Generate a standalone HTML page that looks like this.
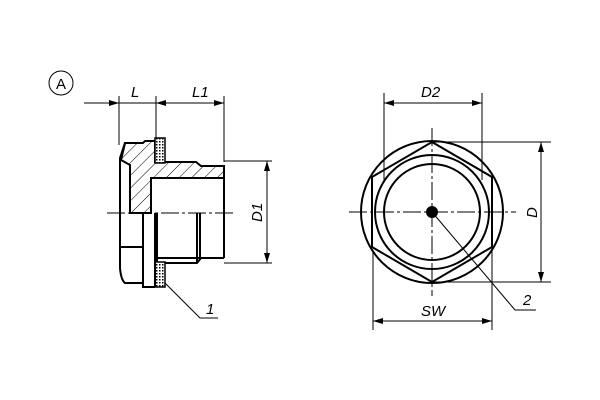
<!DOCTYPE html>
<html><head><meta charset="utf-8"><style>html,body{margin:0;padding:0;background:#fff}svg{display:block}text{font-family:"Liberation Sans",sans-serif;font-style:italic;font-size:15px;fill:#000}</style></head>
<body>
<svg width="600" height="400" viewBox="0 0 600 400" xmlns="http://www.w3.org/2000/svg">
<defs>
<pattern id="h" width="9" height="9" patternUnits="userSpaceOnUse" patternTransform="rotate(45)"><line x1="0" y1="0" x2="0" y2="9" stroke="#000" stroke-width="1"/></pattern>
<pattern id="d" width="3" height="3" patternUnits="userSpaceOnUse"><rect width="3" height="3" fill="#fff"/><rect width="1.5" height="1.5" fill="#000"/></pattern>
<marker id="a" viewBox="0 0 10 6" refX="10" refY="3" markerWidth="10" markerHeight="6" orient="auto-start-reverse" markerUnits="userSpaceOnUse"><path d="M0,0 L10,3 L0,6 z" fill="#000"/></marker>
</defs>
<g fill="none" stroke="#000" stroke-width="1">
<circle cx="61" cy="83" r="12"/>
<line x1="119" y1="96" x2="119" y2="145"/>
<line x1="156" y1="96" x2="156" y2="140"/>
<line x1="224" y1="96" x2="224" y2="162"/>
<line x1="84" y1="103" x2="119" y2="103" marker-end="url(#a)"/>
<line x1="119" y1="103" x2="156" y2="103"/>
<line x1="156" y1="103" x2="224" y2="103" marker-start="url(#a)" marker-end="url(#a)"/>
<line x1="224" y1="161" x2="272" y2="161"/>
<line x1="224" y1="263" x2="272" y2="263"/>
<line x1="267" y1="161" x2="267" y2="263" marker-start="url(#a)" marker-end="url(#a)"/>
<line x1="107" y1="213" x2="236" y2="213" stroke-dasharray="18,3,3,3"/>
<polyline points="165,283 200,318 218,318"/>
</g>
<path d="M125,143 L143,143 L145,141 L155,141 L155,162 L196,162 L201,166 L224,166 L224,178 L151,178 L151,213 L130,213 L130,165 L121,160 Z" fill="url(#h)" stroke="#000" stroke-width="2"/>
<rect x="155" y="138" width="10" height="25" fill="url(#d)" stroke="#000" stroke-width="1.5"/>
<rect x="155" y="262" width="10" height="25" fill="url(#d)" stroke="#000" stroke-width="1.5"/>
<g fill="none" stroke="#000" stroke-width="2">
<path d="M125,143 L120,158 L120,268 Q121,280 125,283 L143,283"/>
<line x1="120" y1="247" x2="143" y2="247"/>
<line x1="143" y1="213" x2="143" y2="283"/>
<path d="M143,283 L143,287 L155,287"/>
<line x1="155" y1="213" x2="155" y2="287"/>
<line x1="157" y1="213" x2="157" y2="262"/>
<line x1="224" y1="178" x2="224" y2="258"/>
<path d="M157,258 L224,258"/>
<path d="M165,263 L197,263 L201,258"/>
<line x1="197" y1="213" x2="197" y2="263"/>
<line x1="200" y1="213" x2="200" y2="258"/>
</g>
<g fill="none" stroke="#000" stroke-width="2">
<circle cx="432" cy="212" r="71"/>
<polygon points="432,142 492,177 492,247 432,282 372,247 372,177"/>
<circle cx="432" cy="212" r="57"/>
<circle cx="432" cy="212" r="48"/>
</g>
<circle cx="432" cy="212" r="6" fill="#000"/>
<g fill="none" stroke="#000" stroke-width="1">
<line x1="349" y1="212" x2="516" y2="212" stroke-dasharray="18,3,3,3"/>
<line x1="432" y1="128" x2="432" y2="296" stroke-dasharray="18,3,3,3"/>
<line x1="384" y1="93" x2="384" y2="180"/>
<line x1="482" y1="93" x2="482" y2="180"/>
<line x1="384" y1="103" x2="482" y2="103" marker-start="url(#a)" marker-end="url(#a)"/>
<line x1="373" y1="250" x2="373" y2="330"/>
<line x1="492" y1="250" x2="492" y2="330"/>
<line x1="373" y1="321" x2="492" y2="321" marker-start="url(#a)" marker-end="url(#a)"/>
<line x1="432" y1="142" x2="551" y2="142"/>
<line x1="432" y1="282" x2="551" y2="282"/>
<line x1="541" y1="142" x2="541" y2="282" marker-start="url(#a)" marker-end="url(#a)"/>
<polyline points="432,212 515,310 536,310"/>
</g>
<text x="56" y="89" style="font-style:normal">A</text>
<text x="131" y="97">L</text>
<text x="192" y="97">L1</text>
<text x="0" y="0" transform="translate(262,222) rotate(-90)">D1</text>
<text x="206" y="314">1</text>
<text x="421" y="97">D2</text>
<text x="421" y="316">SW</text>
<text x="0" y="0" transform="translate(537,218) rotate(-90)">D</text>
<text x="523" y="305">2</text>
</svg>
</body></html>
